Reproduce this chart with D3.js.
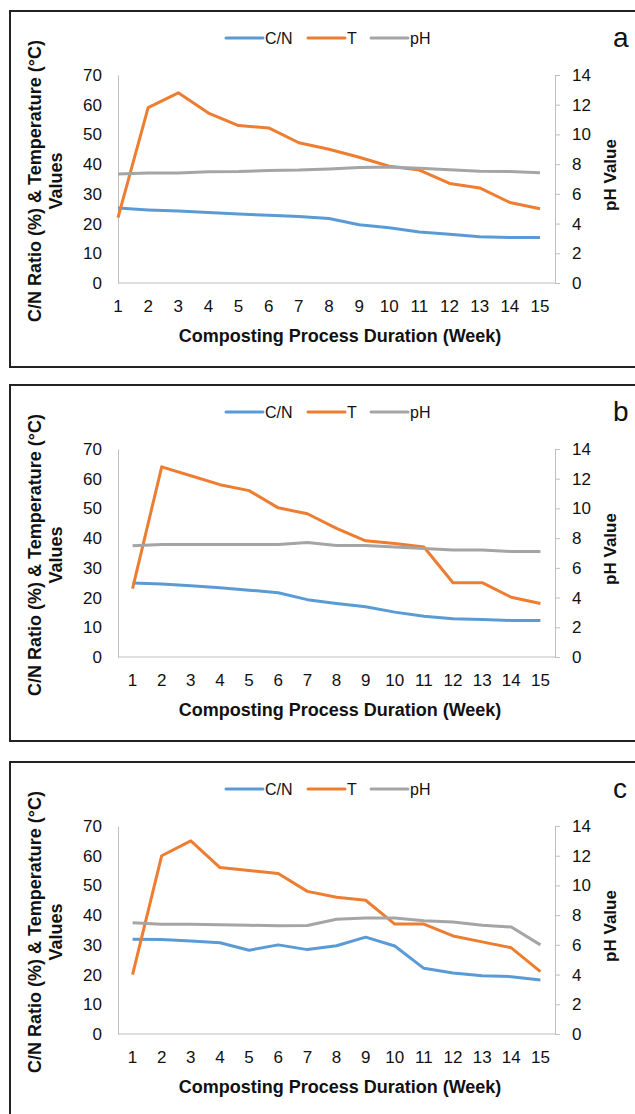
<!DOCTYPE html>
<html>
<head>
<meta charset="utf-8">
<script src="https://cdn.jsdelivr.net/npm/d3@7"></script>
<style>
  body { margin: 0; background: #fff; }
  svg { display: block; font-family: "Liberation Sans", Arial, sans-serif; }
</style>
</head>
<body>
<div id="chart"></div>
<script>
const weeks = d3.range(1, 16);
const leftTicks = [0, 10, 20, 30, 40, 50, 60, 70];
const rightTicks = [0, 2, 4, 6, 8, 10, 12, 14];

// panel a
const cnA = [25.2, 24.6, 24.2, 23.7, 23.2, 22.8, 22.4, 21.7, 19.6, 18.6, 17.2, 16.4, 15.6, 15.3, 15.3];
const tA = [22, 59, 64, 57.2, 53, 52.2, 47.2, 45, 42.3, 39.3, 38, 33.5, 32, 27.1, 25];
const phA = [7.33, 7.4, 7.4, 7.48, 7.5, 7.57, 7.6, 7.68, 7.77, 7.8, 7.72, 7.62, 7.52, 7.5, 7.42];

// panel b
const cnB = [24.9, 24.6, 24, 23.3, 22.5, 21.6, 19.3, 18, 16.9, 15.1, 13.7, 12.9, 12.6, 12.3, 12.3];
const tB = [23, 64, 61, 58, 56, 50.2, 48.2, 43.3, 39.1, 38.2, 37, 25, 25, 20.1, 18];
const phB = [7.49, 7.58, 7.58, 7.58, 7.58, 7.58, 7.7, 7.5, 7.5, 7.4, 7.31, 7.2, 7.2, 7.1, 7.1];

// panel c
const cnC = [31.9, 31.8, 31.3, 30.7, 28.2, 30, 28.4, 29.7, 32.6, 29.6, 22.1, 20.5, 19.6, 19.3, 18.2];
const tC = [20, 60, 65, 56, 55, 54, 48, 46, 45, 37, 37, 33, 31, 29, 21];
const phC = [7.49, 7.38, 7.38, 7.36, 7.32, 7.28, 7.3, 7.72, 7.8, 7.8, 7.63, 7.54, 7.32, 7.2, 6];

const seriesNames = ['C/N', 'T', 'pH'];
const colors = ['#5B9BD5', '#ED7D31', '#A5A5A5'];

const width = 635, height = 1114;

const svg = d3.select('#chart')
  .append('svg')
  .attr('width', width)
  .attr('height', height);

const drawPanel = (top, label, cn, t, ph, onTicks) => {
  const g = svg.append('g').attr('transform', `translate(0, ${top})`);

  // frame
  g.append('rect')
    .attr('x', 10).attr('y', 11)
    .attr('width', 640).attr('height', 356)
    .attr('fill', 'none')
    .attr('stroke', '#222')
    .attr('stroke-width', 2);

  const plot = { left: 118, right: 555, top: 75, bottom: 283 };

  let x;
  if (onTicks) {
    x = d3.scalePoint().domain(weeks).range([plot.left, 540]);
  } else {
    const band = d3.scaleBand().domain(weeks).range([plot.left, plot.right]);
    x = (d) => band(d) + band.bandwidth() / 2;
  }

  const y = d3.scaleLinear().domain([0, 70]).range([plot.bottom, plot.top]);
  const y2 = d3.scaleLinear().domain([0, 14]).range([plot.bottom, plot.top]);

  // left axis
  const left = g.append('g')
    .attr('transform', `translate(${plot.left}, 0)`)
    .call(d3.axisLeft(y).tickValues(leftTicks).tickSize(0).tickPadding(16));
  left.select('.domain').attr('stroke', '#BFBFBF');
  left.selectAll('text').attr('font-size', 17).attr('fill', '#111').attr('font-family', null);

  // right axis
  const right = g.append('g')
    .attr('transform', `translate(${plot.right}, 0)`)
    .call(d3.axisRight(y2).tickValues(rightTicks).tickSize(5).tickSizeOuter(5).tickPadding(12));
  right.selectAll('.domain, line').attr('stroke', '#BFBFBF');
  right.selectAll('text').attr('font-size', 17).attr('fill', '#111').attr('font-family', null);

  // bottom axis line
  g.append('line')
    .attr('x1', plot.left).attr('x2', plot.right)
    .attr('y1', plot.bottom).attr('y2', plot.bottom)
    .attr('stroke', '#BFBFBF');

  g.append('g')
    .selectAll('text')
    .data(weeks)
    .join('text')
    .attr('x', (d) => x(d))
    .attr('y', 312)
    .attr('text-anchor', 'middle')
    .attr('font-size', 17)
    .attr('fill', '#111')
    .text((d) => d);

  // lines
  const lineL = d3.line().x((d, i) => x(weeks[i])).y((d) => y(d));
  const lineR = d3.line().x((d, i) => x(weeks[i])).y((d) => y2(d));

  [[cn, lineL, colors[0]], [t, lineL, colors[1]], [ph, lineR, colors[2]]].forEach(([vals, gen, c]) => {
    g.append('path')
      .attr('d', gen(vals))
      .attr('fill', 'none')
      .attr('stroke', c)
      .attr('stroke-width', 3)
      .attr('stroke-linejoin', 'round');
  });

  // legend
  const legendX = [226, 308, 371];
  const leg = g.append('g');
  seriesNames.forEach((name, i) => {
    leg.append('line')
      .attr('x1', legendX[i]).attr('x2', legendX[i] + 37)
      .attr('y1', 38).attr('y2', 38)
      .attr('stroke', colors[i])
      .attr('stroke-width', 3)
      .attr('stroke-linecap', 'round');
    leg.append('text')
      .attr('x', legendX[i] + 39)
      .attr('y', 44)
      .attr('font-size', 16)
      .attr('fill', '#111')
      .text(name);
  });

  // panel letter
  g.append('text')
    .attr('x', 613).attr('y', 47)
    .attr('font-size', 28)
    .attr('fill', '#111')
    .text(label);

  // axis titles
  g.append('text')
    .attr('text-anchor', 'middle')
    .attr('font-size', 18)
    .attr('font-weight', 'bold')
    .attr('fill', '#111')
    .attr('transform', 'translate(41, 181) rotate(-90)')
    .text('C/N Ratio (%) & Temperature (°C)');

  g.append('text')
    .attr('text-anchor', 'middle')
    .attr('font-size', 18)
    .attr('font-weight', 'bold')
    .attr('fill', '#111')
    .attr('transform', 'translate(62, 181) rotate(-90)')
    .text('Values');

  g.append('text')
    .attr('text-anchor', 'middle')
    .attr('font-size', 17)
    .attr('font-weight', 'bold')
    .attr('fill', '#111')
    .attr('transform', 'translate(616, 175) rotate(-90)')
    .text('pH Value');

  g.append('text')
    .attr('x', 340).attr('y', 342)
    .attr('text-anchor', 'middle')
    .attr('font-size', 18)
    .attr('font-weight', 'bold')
    .attr('fill', '#111')
    .text('Composting Process Duration (Week)');
};

drawPanel(0, 'a', cnA, tA, phA, true);
drawPanel(374, 'b', cnB, tB, phB, false);
drawPanel(751, 'c', cnC, tC, phC, false);
</script>
</body>
</html>
